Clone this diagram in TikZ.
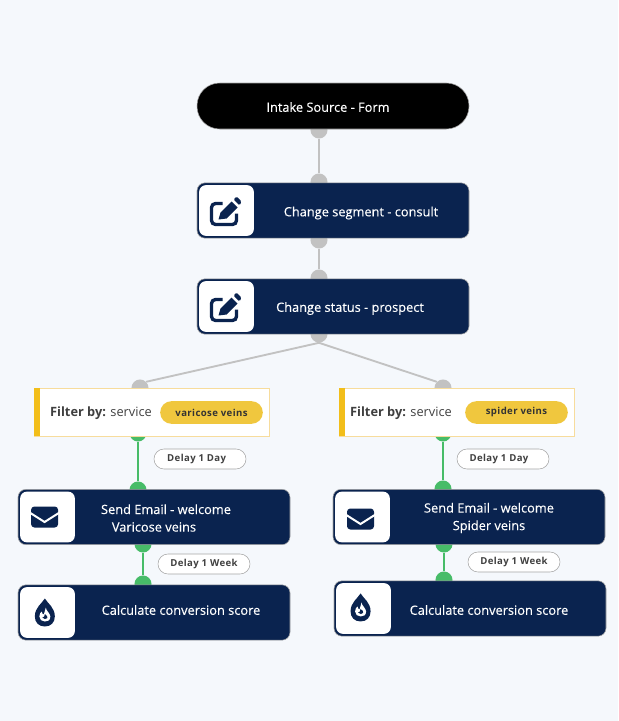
\documentclass[tikz,border=0pt]{standalone}
\usepackage{fontspec}
\setmainfont{Open Sans}
\newfontfamily\stepfont[FakeBold=0.2]{Open Sans}
\newfontfamily\pillfont[LetterSpace=4]{Open Sans}
\definecolor{pagebg}{HTML}{F5F8FC}
\definecolor{navy}{HTML}{0A234F}
\definecolor{greydot}{HTML}{C2C2C2}
\definecolor{greenline}{HTML}{47BC68}
\definecolor{filteredge}{HTML}{F7DC9C}
\definecolor{filterbar}{HTML}{F2BE1A}
\definecolor{pillfill}{HTML}{F0C73E}
\tikzset{
  stepbox/.style={draw=gray!70,fill=navy,rounded corners=6pt,minimum width=204pt,minimum height=41.5pt,inner sep=0pt},
  startbox/.style={draw=gray!70,fill=black,rounded corners=17pt,minimum width=204pt,minimum height=34.5pt,inner sep=0pt},
  iconbox/.style={fill=white,rounded corners=5pt,minimum width=41pt,minimum height=38pt,inner sep=0pt},
  filterbox/.style={draw=filteredge,fill=white,minimum width=176pt,minimum height=36pt,inner sep=0pt},
  filterbar/.style={fill=filterbar,minimum width=4.5pt,minimum height=36pt,inner sep=0pt},
  valuepill/.style={fill=pillfill,rounded corners=8.5pt,minimum width=77pt,minimum height=17pt,inner sep=0pt,font=\fontsize{7.2}{8}\pillfont\bfseries,text=black!80},
  delaypill/.style={draw=gray!70,fill=white,rounded corners=7.5pt,minimum width=69pt,minimum height=15pt,inner sep=0pt,font=\fontsize{7.2}{8}\pillfont\bfseries,text=black!75},
  steptext/.style={text=white,align=center,inner sep=0pt,font=\fontsize{9.6}{13.2}\stepfont},
  filtertext/.style={text=black!75,inner sep=0pt,font=\fontsize{9.6}{12}\selectfont},
  greydotn/.style={circle,fill=greydot,minimum size=12.8pt,inner sep=0pt},
  greendotn/.style={circle,fill=greenline,minimum size=12.8pt,inner sep=0pt},
  greyline/.style={draw=greydot,line width=1.4pt},
  greenlink/.style={draw=greenline,line width=1.4pt},
  editicon/.pic={
    \draw[navy,line width=2.5pt,rounded corners=3pt] (-4,-7) -- (-15,-7) -- (-15,14) -- (10,14) -- (10,3);
    \fill[navy] (-8,9) -- (-6,2) -- (5,-9) -- (11,-3) -- (0,8) -- cycle;
    \fill[navy,rounded corners=1pt] (7,-11) -- (10,-14) -- (15,-9) -- (13,-5) -- cycle;
  },
  mailicon/.pic={
    \fill[navy,rounded corners=2.5pt] (-13.5,-10.5) rectangle (13.5,10.5);
    \draw[white,line width=1.5pt] (-15,-4.5) -- (0,5) -- (15,-4.5);
  },
  dropicon/.pic={
    \fill[navy] (0,-14) .. controls (3,-9) and (10,-5) .. (10,4) .. controls (10,10) and (6,14) .. (0,14) .. controls (-6,14) and (-10,10) .. (-10,4) .. controls (-10,-5) and (-3,-9) .. (0,-14) -- cycle;
    \fill[white] (1,-5) .. controls (1,-2) and (5.5,1) .. (5.5,4) .. controls (5.5,8) and (3,9) .. (0,9) .. controls (-3,9) and (-5.5,7) .. (-5.5,4) .. controls (-5.5,1) and (-4,0) .. (-3,-1) .. controls (-3,1) and (-2,2) .. (-1,2) .. controls (0,0) and (0,-3) .. (1,-5) -- cycle;
    \fill[navy] (0,1.5) .. controls (2,3) and (3,4) .. (2.5,5.5) .. controls (2,7) and (-1.5,7) .. (-2.5,5) .. controls (-1,5) and (0,4) .. (0,1.5) -- cycle;
  }
}

\begin{document}
\begin{tikzpicture}[x=0.75pt,y=-0.75pt]
  \useasboundingbox[fill=pagebg] (0,0) rectangle (618,721);

  % Dots
  \node[greydotn] (d1) at (319,130) {};
  \node[greydotn] (d2) at (319,182) {};
  \node[greydotn] (d3) at (319,240) {};
  \node[greydotn] (d4) at (319,278) {};
  \node[greydotn] (d5) at (319,334) {};
  \node[greydotn] (d6) at (140,388) {};
  \node[greydotn] (d7) at (443,388) {};
  \node[greendotn] (g1) at (138,433) {};
  \node[greendotn] (g2) at (138,490) {};
  \node[greendotn] (g3) at (143,544) {};
  \node[greendotn] (g4) at (143,584) {};
  \node[greendotn] (g5) at (443,433) {};
  \node[greendotn] (g6) at (443,489) {};
  \node[greendotn] (g7) at (444,544) {};
  \node[greendotn] (g8) at (444,580) {};

  % Links
  \draw[greyline] (d1) -- (d2);
  \draw[greyline] (d3) -- (d4);
  \draw[greyline] (d5.south) -- (d6.north east);
  \draw[greyline] (d5.south) -- (d7.north west);
  \draw[greenlink] (g1) -- (g2);
  \draw[greenlink] (g3) -- (g4);
  \draw[greenlink] (g5) -- (g6);
  \draw[greenlink] (g7) -- (g8);

  % Top
  \node[startbox] (intake) at (333,106) {};
  \node[steptext] (intaketxt) at (328,107) {Intake Source - Form};

  \node[stepbox] (segment) at (333,210.5) {};
  \node[iconbox] (segicon) at (226.5,210.5) {};
  \pic at (segicon) {editicon};
  \node[steptext] (segtxt) at (361,213) {Change segment - consult};

  \node[stepbox] (status) at (333,306.5) {};
  \node[iconbox] (staticon) at (226.5,306.5) {};
  \pic at (staticon) {editicon};
  \node[steptext] (stattxt) at (350,308.5) {Change status - prospect};

  % Left branch
  \node[filterbox] (filtl) at (151.5,412) {};
  \node[filterbar] (barl) at (37,412) {};
  \node[filtertext] (filtltxt) at (101,413) {\textbf{Filter by:} service};
  \node[valuepill] (pilll) at (211.5,412.5) {varicose veins};
  \node[delaypill] (dayl) at (200,459) {Delay 1 Day\hspace*{5pt}};

  \node[stepbox] (maill) at (154,517) {};
  \node[iconbox] (maillicon) at (47.5,517) {};
  \pic at ([xshift=-2.2pt]maillicon) {mailicon};
  \node[steptext] (mailltxt) at (166,518) {Send Email - welcome\\Varicose veins\hspace*{18pt}};
  \node[delaypill] (weekl) at (204,564) {Delay 1 Week};

  \node[stepbox] (calcl) at (154,612.5) {};
  \node[iconbox] (calclicon) at (47.5,612.5) {};
  \pic at ([xshift=-2pt]calclicon) {dropicon};
  \node[steptext] (calcltxt) at (181,610) {Calculate conversion score};

  % Right branch
  \node[filterbox] (filtr) at (456.5,412) {};
  \node[filterbar] (barr) at (342,412) {};
  \node[filtertext] (filtrtxt) at (401,413) {\textbf{Filter by:} service};
  \node[valuepill] (pillr) at (516.5,412.5) {spider veins};
  \node[delaypill] (dayr) at (503,459) {Delay 1 Day\hspace*{6pt}};

  \node[stepbox] (mailr) at (469,517) {};
  \node[iconbox] (mailricon) at (362.5,517) {};
  \pic at ([xshift=-1.5pt,yshift=-1.5pt]mailricon) {mailicon};
  \node[steptext] (mailrtxt) at (489,518) {Send Email - welcome\\Spider veins};
  \node[delaypill] (weekr) at (514,562) {Delay 1 Week};

  \node[stepbox] (calcr) at (470,608.5) {};
  \node[iconbox] (calcricon) at (363.5,608.5) {};
  \pic at ([xshift=-2.2pt,yshift=0.8pt]calcricon) {dropicon};
  \node[steptext] (calcrtxt) at (489,610) {Calculate conversion score};
\end{tikzpicture}
\end{document}
